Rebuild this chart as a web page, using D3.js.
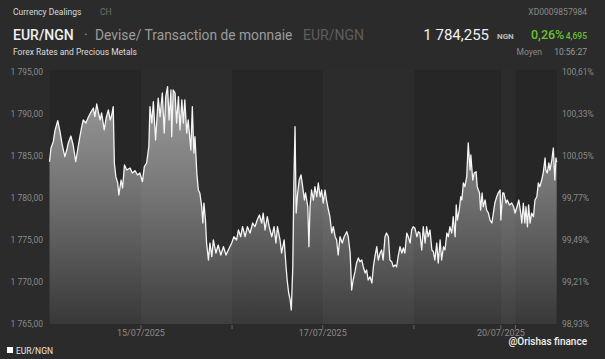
<!DOCTYPE html>
<html><head><meta charset="utf-8">
<script src="https://cdn.jsdelivr.net/npm/d3@7"></script>
<style>
html,body{margin:0;padding:0;background:#2b2b2b;}
svg{display:block;font-family:Roboto,"Noto Sans",sans-serif;}
</style></head>
<body><svg id="c" width="605" height="359"></svg>
<script>
// hours since start of the displayed period (compressed trading timeline)
const hours = [0,0.4,1.0,1.5,2.2,2.8,3.3,3.7,4.1,4.6,5.0,5.7,6.3,7.0,7.5,8.1,8.6,9.0,9.7,10.4,11.1,11.7,12.1,12.6,13.0,13.5,13.9,14.6,15.1,15.7,16.2,16.6,17.0,17.3,17.7,18.2,18.5,19.1,19.5,20.0,20.6,21.5,22.1,22.8,23.5,24.1,24.8,25.3,25.9,26.5,26.8,27.3,27.7,28.3,29.0,29.5,30.1,30.6,31.0,31.5,31.9,32.4,32.6,33.0,33.5,33.9,34.4,34.8,35.3,35.7,36.1,36.6,37.0,37.7,38.1,38.5,38.8,39.3,39.7,40.1,40.6,40.9,41.2,41.6,41.9,42.4,42.8,43.3,43.7,44.4,45.0,45.7,46.4,47.1,47.7,48.6,49.2,49.9,50.4,51.0,51.5,52.2,52.8,53.5,54.2,54.8,55.4,56.0,56.6,57.0,57.5,58.1,58.6,59.3,59.9,60.4,60.8,61.5,61.9,62.6,63.1,63.4,63.8,64.2,64.5,64.9,65.2,65.5,65.8,66.2,66.6,67.1,67.4,68.0,68.3,68.9,69.2,69.5,69.9,70.4,70.8,71.3,71.7,72.2,72.6,73.0,73.5,73.9,74.4,74.8,75.3,75.7,76.2,76.6,77.0,77.5,78.1,78.6,79.3,79.7,80.2,80.6,81.0,81.5,81.9,82.4,82.8,83.3,83.7,84.2,84.6,85.0,85.5,86.0,86.4,86.8,87.3,87.7,88.2,88.6,89.0,89.5,89.9,90.4,90.8,91.3,91.7,92.2,92.6,93.0,93.5,94.0,94.4,94.8,95.3,95.7,96.2,96.6,97.0,97.5,98.0,98.4,98.8,99.3,99.7,100.2,100.6,101.0,101.5,102.0,102.4,102.8,103.3,103.7,104.2,104.6,105.1,105.5,106.0,106.4,106.8,107.3,107.7,108.2,108.5,108.8,109.3,109.7,110.0,110.4,110.8,111.3,111.7,112.2,112.4,112.9,113.3,113.8,114.1,114.7,115.0,115.4,115.7,116.2,116.6,117.1,117.5,118.0,118.4,118.8,119.3,119.7,120.2,120.4,120.9,121.2,121.8,122.1,122.7,123.3,123.8,124.2,124.7,125.2,125.7,126.0,126.4,126.8,127.1,127.5,127.8,128.2,128.6,129.1,129.5,130.0,130.4,130.8,131.3,131.7,132.2,132.4,132.8,133.2,133.5,134.0,134.4,134.8,135.1,135.3];
const rates = [1784.32,1785.95,1786.7,1788.1,1789.2,1787.89,1786.55,1785.71,1784.92,1785.71,1786.55,1787.38,1786.31,1784.32,1785.71,1787.3,1788.49,1789.29,1788.93,1789.68,1790.27,1790.71,1789.68,1791.19,1790.27,1789.29,1790.12,1788.1,1789.52,1790.48,1789.29,1789.88,1790.87,1784.17,1782.54,1781.79,1780.36,1782.14,1781.19,1783.93,1783.33,1783.57,1782.98,1783.25,1782.74,1782.98,1781.94,1783.73,1784.17,1786.11,1790.87,1788.93,1791.46,1786.9,1791.9,1789.68,1792.5,1787.74,1792.06,1793.25,1789.29,1792.86,1787.3,1792.86,1792.5,1788.93,1792.06,1788.1,1791.67,1788.93,1791.67,1787.74,1789.29,1785.71,1790.87,1785.36,1787.3,1782.98,1780.95,1780.6,1778.96,1777.02,1779.4,1777.38,1774.64,1772.62,1774.64,1773.01,1775.0,1773.45,1774.4,1773.21,1774.2,1773.21,1773.81,1774.64,1775.39,1775.0,1776.19,1775.39,1776.58,1775.39,1776.58,1775.83,1777.02,1776.58,1777.38,1777.98,1777.02,1778.21,1776.19,1777.77,1776.58,1775.39,1776.58,1774.64,1776.58,1775.0,1773.45,1775.0,1771.82,1770.24,1768.69,1767.86,1766.67,1771.82,1782.14,1788.49,1778.21,1780.6,1782.14,1782.74,1781.79,1779.76,1780.6,1778.96,1774.2,1778.96,1780.95,1779.76,1781.35,1780.15,1781.79,1780.15,1780.95,1779.4,1780.95,1779.76,1778.57,1777.77,1775.83,1776.58,1775.39,1775.0,1773.21,1775.39,1774.64,1775.39,1775.99,1775.39,1773.45,1769.05,1770.24,1771.23,1772.26,1772.86,1772.42,1772.62,1771.82,1771.07,1771.43,1770.24,1770.63,1769.88,1771.82,1773.01,1774.2,1772.62,1773.45,1773.81,1772.62,1775.39,1775.83,1775.39,1772.62,1772.42,1771.82,1772.02,1771.82,1773.01,1774.2,1773.45,1774.05,1773.45,1775.83,1775.39,1774.64,1776.19,1776.58,1776.39,1775.39,1775.99,1775.83,1773.81,1776.58,1774.64,1776.58,1775.39,1776.19,1773.81,1773.61,1772.62,1774.64,1772.26,1775.0,1772.62,1774.2,1773.81,1775.83,1775.39,1776.58,1775.83,1777.77,1775.39,1779.17,1777.38,1778.57,1780.15,1779.76,1781.79,1781.35,1782.54,1786.55,1783.33,1785.12,1782.14,1782.98,1783.13,1781.35,1780.6,1778.57,1780.6,1778.96,1779.76,1778.57,1778.21,1777.38,1777.02,1778.21,1779.4,1780.15,1780.6,1780.95,1777.38,1780.6,1780.6,1779.4,1779.76,1779.17,1779.4,1778.96,1778.21,1778.96,1779.76,1778.21,1777.02,1779.4,1777.02,1778.96,1776.58,1779.17,1777.02,1778.21,1777.77,1779.76,1780.15,1781.79,1781.35,1782.14,1782.98,1784.76,1783.33,1782.98,1784.17,1783.33,1784.52,1785.95,1782.14,1784.76,1784.26];

const leftTicks = [1765,1770,1775,1780,1785,1790,1795];
const rightTickLabels = ["98,93%","99,21%","99,49%","99,77%","100,05%","100,33%","100,61%"];
const dayTicks = [24.4,48.7,72.9,97.2,120.4,124.3];
const dayLabels = ["15/07/2025","","17/07/2025","","20/07/2025",""];
const bands = [[24.4,48.7],[72.9,97.2],[120.4,124.3]];

const svg = d3.select("#c");
const W=605,H=359;
const m = {l:49.5, r:556.7, t:70, b:324};
const x = d3.scaleLinear().domain([0,135.3]).range([m.l,m.r]);
const y = d3.scaleLinear().domain([1765,1795]).range([324,72]);

svg.append("rect").attr("width",W).attr("height",H).attr("fill","#2b2b2b");
svg.append("rect").attr("x",m.l).attr("y",m.t).attr("width",m.r-m.l).attr("height",m.b-m.t).attr("fill","#262626");

const defs = svg.append("defs");
const g = defs.append("linearGradient").attr("id","fg").attr("gradientUnits","userSpaceOnUse")
  .attr("x1",0).attr("x2",0).attr("y1",80).attr("y2",324);
g.append("stop").attr("offset",0).attr("stop-color","#a8a8a8");
g.append("stop").attr("offset",0.45).attr("stop-color","#7a7a7a");
g.append("stop").attr("offset",1).attr("stop-color","#3a3a3a");

const data = hours.map((h,i)=>({h, v:rates[i]}));
const area = d3.area().x(d=>x(d.h)).y0(y(1765)).y1(d=>y(d.v));
const line = d3.line().x(d=>x(d.h)).y(d=>y(d.v));
svg.append("path").datum(data).attr("d",area).attr("fill","url(#fg)").attr("opacity",0.92);
// session bands (subtle overlay)
svg.selectAll("rect.band").data(bands).join("rect").attr("class","band")
  .attr("x",d=>x(d[0])).attr("width",d=>x(d[1])-x(d[0]))
  .attr("y",m.t).attr("height",m.b-m.t).attr("fill","rgba(255,255,255,0.03)");
svg.append("path").datum(data).attr("d",line).attr("fill","none")
  .attr("stroke","#f5f5f5").attr("stroke-width",1.3).attr("stroke-linejoin","round");

// left axis labels
svg.selectAll("text.yl").data(leftTicks).join("text").attr("class","yl")
  .attr("x",43).attr("y",d=>y(d)).attr("dy","0.35em").attr("text-anchor","end")
  .attr("fill","#8a8a8a").attr("font-size",8.5).text(d=>d3.format(",.2f")(d).replace(",","\u2009").replace(".",",").replace("\u2009"," "));
// right axis labels
svg.selectAll("text.yr").data(leftTicks).join("text").attr("class","yr")
  .attr("x",562).attr("y",d=>y(d)).attr("dy","0.35em")
  .attr("fill","#8a8a8a").attr("font-size",8.5).text((d,i)=>rightTickLabels[i]);

// x ticks
svg.selectAll("line.xt").data(dayTicks).join("line").attr("class","xt")
  .attr("x1",d=>x(d)).attr("x2",d=>x(d)).attr("y1",325).attr("y2",329)
  .attr("stroke","#666").attr("stroke-width",1);
svg.selectAll("text.xl").data(dayTicks).join("text").attr("class","xl")
  .attr("x",d=>x(d)).attr("y",333).attr("dy","0.35em").attr("text-anchor","middle")
  .attr("fill","#8a8a8a").attr("font-size",9).text((d,i)=>dayLabels[i]);

// header
const t = (xx,yy,txt,size,fill,opts={})=>{
  const e = svg.append("text").attr("x",xx).attr("y",yy).attr("dy","0.35em")
    .attr("font-size",size).attr("fill",fill).text(txt);
  if(opts.anchor) e.attr("text-anchor",opts.anchor);
  if(opts.weight) e.attr("font-weight",opts.weight);
  return e;
};
t(13,12,"Currency Dealings",8.5,"#d8d8d8");
t(100,12,"CH",8.5,"#6e6e6e");
t(587,12,"XD0009857984",8.5,"#8a8a8a",{anchor:"end"});
t(13,35,"EUR/NGN",14,"#f0f0f0",{weight:500});
t(84,35,"\u00b7",14,"#9a9a9a");
t(95,35,"Devise/ Transaction de monnaie",13.8,"#9c9c9c");
t(303,35,"EUR/NGN",14,"#5e5e5e");
t(489,35,"1 784,255",15,"#f0f0f0",{anchor:"end"});
t(497,36,"NGN",8,"#bdbdbd",{weight:700});
t(531,35,"0,26%",12.5,"#6cc12e",{weight:500});
t(587,36,"4,695",8.5,"#6cc12e",{anchor:"end",weight:500});
t(13,52,"Forex Rates and Precious Metals",8.5,"#dcdcdc");
t(542,52,"Moyen",8.5,"#8a8a8a",{anchor:"end"});
t(587,52,"10:56:27",8.5,"#9a9a9a",{anchor:"end"});

// footer
svg.append("rect").attr("x",7).attr("y",347).attr("width",6).attr("height",6).attr("fill","#ffffff");
t(16,351,"EUR/NGN",8.5,"#e8e8e8");
t(587,341,"@Orishas finance",10,"#f2f2f2",{anchor:"end",weight:500});
</script></body></html>
